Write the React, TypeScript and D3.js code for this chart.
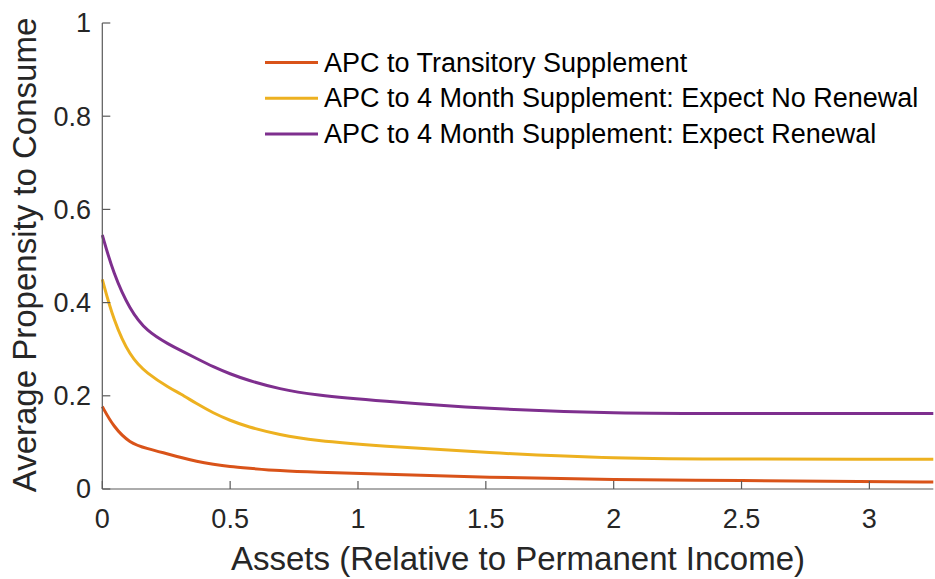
import React from "react";
import * as d3 from "d3";

const seriesNames = [
  "APC to Transitory Supplement",
  "APC to 4 Month Supplement: Expect No Renewal",
  "APC to 4 Month Supplement: Expect Renewal",
];
const seriesColors = ["#D95319", "#EDB120", "#7E2F8E"];

const assets = [0, 0.043, 0.108, 0.174, 0.265, 0.304, 0.369, 0.434, 0.5, 0.565, 0.695, 0.826, 1.086, 1.5, 2.0, 2.5, 3.0, 3.25];
const apcTransitory = [0.177, 0.134, 0.098, 0.087, 0.074, 0.068, 0.059, 0.053, 0.048, 0.045, 0.039, 0.036, 0.032, 0.025, 0.02, 0.018, 0.016, 0.015];
const apcNoRenewal = [0.45, 0.363, 0.284, 0.248, 0.216, 0.205, 0.183, 0.163, 0.147, 0.134, 0.116, 0.104, 0.092, 0.078, 0.065, 0.064, 0.064, 0.064];
const apcRenewal = [0.545, 0.463, 0.384, 0.338, 0.309, 0.298, 0.28, 0.262, 0.247, 0.234, 0.214, 0.202, 0.189, 0.172, 0.162, 0.162, 0.162, 0.162];

const xTicks = [0, 0.5, 1, 1.5, 2, 2.5, 3];
const yTicks = [0, 0.2, 0.4, 0.6, 0.8, 1];

export default function App() {
  const W = 935, H = 579;
  const x = d3.scaleLinear().domain([0, 3.25]).range([102.3, 933.3]);
  const y = d3.scaleLinear().domain([0, 1]).range([489, 23]);
  const line = d3.line<[number, number]>().x(d => x(d[0])).y(d => y(d[1])).curve(d3.curveBasis);
  const all = [apcTransitory, apcNoRenewal, apcRenewal];
  const font = "'Liberation Sans', Arial, sans-serif";
  const axisColor = "#5a5a5a";
  const textColor = "#262626";
  return (
    <svg width={W} height={H} style={{ position: "absolute", left: 0, top: 0, background: "#fff" }} fontFamily={font}>
      {all.map((vals, i) => (
        <path key={i} d={line(assets.map((a, j) => [a, vals[j]]) as [number, number][]) || ""} fill="none" stroke={seriesColors[i]} strokeWidth={3} />
      ))}
      <line x1={x(0)} x2={x(0)} y1={y(0)} y2={y(1)} stroke={axisColor} strokeWidth={1.2} />
      <line x1={x(0)} x2={x(3.25)} y1={y(0)} y2={y(0)} stroke={axisColor} strokeWidth={1.2} />
      {yTicks.map(t => (
        <g key={"y" + t}>
          <line x1={x(0)} x2={x(0) + 8} y1={y(t)} y2={y(t)} stroke={axisColor} strokeWidth={1.2} />
          <text x={91} y={y(t)} dy="0.35em" textAnchor="end" fontSize={27} fill={textColor}>{t}</text>
        </g>
      ))}
      {xTicks.map(t => (
        <g key={"x" + t}>
          <line x1={x(t)} x2={x(t)} y1={y(0)} y2={y(0) - 8} stroke={axisColor} strokeWidth={1.2} />
          <text x={x(t)} y={528} textAnchor="middle" fontSize={27} fill={textColor}>{t}</text>
        </g>
      ))}
      <text x={518} y={570} textAnchor="middle" fontSize={33} fill={textColor}>Assets (Relative to Permanent Income)</text>
      <text transform={`translate(36,${255}) rotate(-90)`} textAnchor="middle" fontSize={33} fill={textColor}>Average Propensity to Consume</text>
      {seriesNames.map((n, i) => (
        <g key={n}>
          <line x1={265} x2={318} y1={62.5 + i * 35.7} y2={62.5 + i * 35.7} stroke={seriesColors[i]} strokeWidth={3} />
          <text x={324} y={71.5 + i * 35.7} fontSize={27} fill="#000">{n}</text>
        </g>
      ))}
    </svg>
  );
}
